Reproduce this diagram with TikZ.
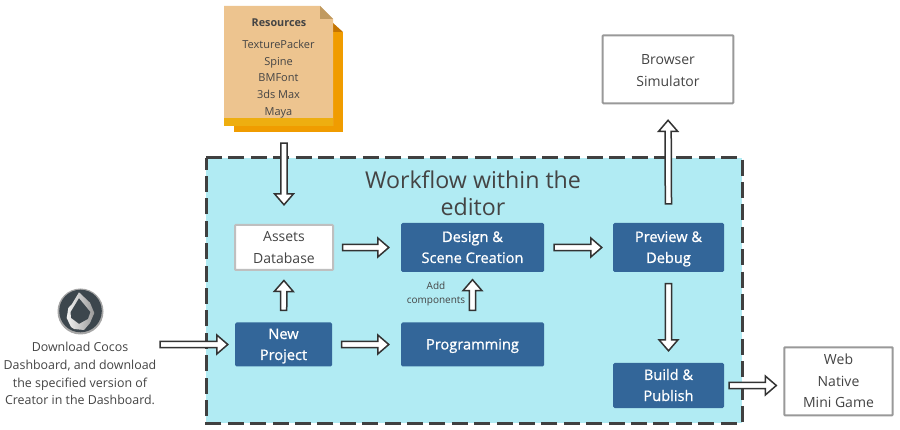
\documentclass[tikz,border=0pt]{standalone}
\usepackage{fontspec}
\setmainfont{Open Sans}
\newfontface\semib[FakeBold=0.9]{Open Sans}
\usetikzlibrary{calc}
\definecolor{txt}{HTML}{444444}
\definecolor{bluebox}{HTML}{336699}
\definecolor{cyanbg}{HTML}{B1EBF3}
\newcommand{\fs}[2]{\fontsize{#1}{#2}\selectfont}
\newcommand{\lstrut}{\rule[-4pt]{0pt}{4pt}}
\newcommand{\fl}{\rule{0pt}{14pt}}
\tikzset{
  x=1pt,y=-1pt,
  flow/.style={draw=none,fill=bluebox,rounded corners=1.5pt,text=white,align=center,inner sep=0pt,font=\semib\fs{14.6}{21},
    execute at end node=\lstrut},
  plainbox/.style={draw=#1,fill=white,line width=2pt,rounded corners=0.8pt,text=txt,align=center,inner sep=0pt,font=\fs{14}{21.5},
    execute at end node=\lstrut},
  plaintext/.style={text=txt,align=center,inner sep=0pt},
  blockarrow/.style={draw=black!80,line width=1.5pt,fill=white,line join=miter},
}
% \barrow{from}{to}{gap at start}{gap at end}
\newcommand{\barrow}[4]{%
  \coordinate (s) at ($(#1)!#3!(#2)$);
  \coordinate (t) at ($(#2)!#4!(#1)$);
  \coordinate (hb) at ($(t)!11pt!(s)$);
  \draw[blockarrow] ($(s)!3.1pt!90:(t)$) -- ($(hb)!3.1pt!90:(t)$) -- ($(hb)!9.5pt!90:(t)$) -- (t)
    -- ($(hb)!9.5pt!-90:(t)$) -- ($(hb)!3.1pt!-90:(t)$) -- ($(s)!3.1pt!-90:(t)$) -- cycle;
}
\begin{document}
\begin{tikzpicture}
\useasboundingbox (0,0) rectangle (900,430);
\fill[white] (0,0) rectangle (900,430);

% container
\fill[cyanbg] (206,158) rectangle (742,423);
\draw[draw=black!75,line width=3pt,dash pattern=on 16pt off 6.4pt] (206,158) -- (742,158) -- (742,423) -- (206,423) -- cycle;
\node[plaintext,font=\fs{23.2}{27}] (title) at (473,193.5) {Workflow within the\\editor};

% resources document
\fill[fill={rgb,255:red,240;green,156;blue,0}] (234,32) -- (343,32) -- (343,132) -- (234,132) -- cycle;
\fill[fill={rgb,255:red,196;green,116;blue,0}] (333,23) -- (343,32) -- (333,32) -- cycle;
\fill[fill={rgb,255:red,237;green,196;blue,143}] (224,6) -- (320,6) -- (333,19) -- (333,126) -- (224,126) -- cycle;
\fill[fill={rgb,255:red,192;green,154;blue,96}] (320,6) -- (333,19) -- (320,19) -- cycle;
\fill[fill={rgb,255:red,238;green,174;blue,16}] (224,118) rectangle (333,126);
\node[minimum width=109pt,minimum height=120pt,inner sep=0pt] (res) at (278.5,66) {};
\node[plaintext,font=\fs{10.8}{14}\bfseries] (restitle) at (279,22.5) {Resources};
\node[plaintext,font=\fs{11}{16.7}] (reslist) at (278.5,79) {TexturePacker\\Spine\\BMFont\\3ds Max\\Maya};

% logo
\fill[black!35] (80.5,311.5) circle (23);
\fill[fill={rgb,255:red,60;green,70;blue,77}] (80.5,311) circle (21.3);
\shade[left color=black!5,right color=black!40,even odd rule] (79,292.3) -- (90,302.7) -- (94.3,313) -- (90,323) -- (84,330) -- (74,329) -- (71,327) -- (66.7,318) -- (68.3,308) -- (72,304) -- cycle
  (79,298) -- (70.5,312) -- (71,318) -- (79,324) -- (88,319) -- (90.5,312) -- cycle;
\node[plaintext,font=\fs{12.4}{17.8}] (dash) at (80,373.5) {Download Cocos\\Dashboard, and download\\the specified version of\\Creator in the Dashboard.};
\coordinate (dashr) at (155,344.5);

% nodes
\node[plainbox=black!25,minimum width=98pt,minimum height=45pt] (assets) at (284,247.5) {\fl Assets\\Database};
\node[flow,minimum width=143pt,minimum height=49pt] (design) at (472.5,247.5) {\fl Design \&\\Scene Creation};
\node[flow,minimum width=111pt,minimum height=49pt] (preview) at (668.5,247.5) {\fl Preview \&\\Debug};
\node[flow,minimum width=97pt,minimum height=44pt] (newp) at (283.5,344.5) {\fl New\\Project};
\node[flow,minimum width=143pt,minimum height=44pt] (prog) at (472.5,344.5) {\fl Programming};
\node[flow,minimum width=111pt,minimum height=45pt] (build) at (668.5,385.5) {\fl Build \&\\Publish};
\node[plainbox=black!40,minimum width=130.6pt,minimum height=68pt] (browser) at (668,69.3) {\rule{0pt}{16.5pt}Browser\\Simulator};
\node[plainbox=black!40,minimum width=108.4pt,minimum height=68pt] (web) at (838.5,381.3) {\fl Web\\Native\\Mini Game};
\node[plaintext,font=\fs{10}{13.5}] (addc) at (436,294) {Add\\components};

% connectors
\barrow{res.south -| assets.north}{assets.north}{17pt}{19.2pt}
\barrow{dashr}{newp.west}{5pt}{7pt}
\barrow{newp.north}{assets.south}{12pt}{9.5pt}
\barrow{newp.east}{prog.west}{9.5pt}{12pt}
\barrow{assets.east}{design.west}{8.5pt}{12pt}
\barrow{prog.north}{design.south}{12pt}{7.5pt}
\barrow{design.east}{preview.west}{10pt}{11pt}
\barrow{preview.north}{browser.south}{19pt}{16pt}
\barrow{preview.south}{build.north}{11.5pt}{12pt}
\barrow{build.east}{build.east -| web.west}{5pt}{7pt}
\end{tikzpicture}
\end{document}
